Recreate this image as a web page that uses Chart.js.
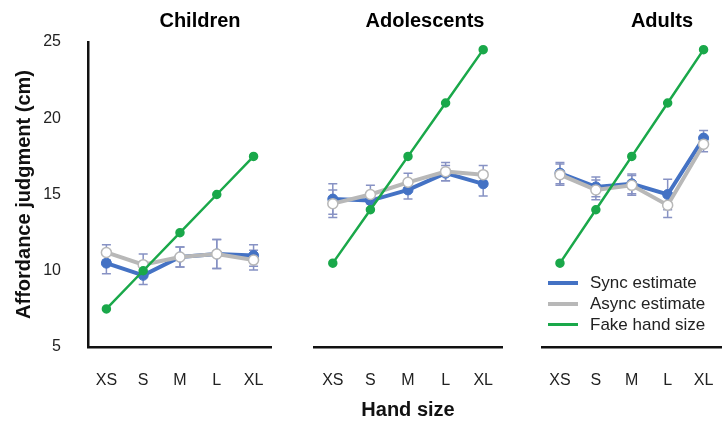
<!DOCTYPE html>
<html>
<head>
<meta charset="utf-8">
<script src="https://cdn.jsdelivr.net/npm/chart.js@4"></script>
<style>
  html, body { margin: 0; padding: 0; background: #fff; overflow: hidden; width: 723px; height: 422px; }
  body { position: relative; font-family: "Liberation Sans", Arial, sans-serif; }
  canvas { position: absolute; top: 0; }
  .title { position: absolute; top: 8px; font-weight: bold; font-size: 20px; color: #000; transform: translateX(-50%); white-space: nowrap; line-height: 24px; }
  .legend { position: absolute; left: 548px; top: 272px; font-size: 17px; color: #222; }
  .legend div { height: 21px; display: flex; align-items: center; }
  .legend span.sw { display: inline-block; width: 30px; margin-right: 12px; }
</style>
</head>
<body>
<canvas id="c1" width="280" height="422" style="left:0px"></canvas>
<canvas id="c2" width="220" height="422" style="left:300px"></canvas>
<canvas id="c3" width="200" height="422" style="left:530px"></canvas>

<div class="title" style="left:200px">Children</div>
<div class="title" style="left:425px">Adolescents</div>
<div class="title" style="left:662px">Adults</div>

<div class="legend">
  <div><span class="sw" style="height:4px;background:#4472c4"></span>Sync estimate</div>
  <div><span class="sw" style="height:4px;background:#b8b8b8"></span>Async estimate</div>
  <div><span class="sw" style="height:2.5px;background:#1aa84a"></span>Fake hand size</div>
</div>

<script>
// data
const handSizes = ['XS', 'S', 'M', 'L', 'XL'];
const yTicks = [5, 10, 15, 20, 25];

const childSync = [10.5, 9.7, 10.9, 11.1, 11.0];
const childAsync = [11.2, 10.4, 10.9, 11.1, 10.7];
const childFake = [7.5, 10, 12.5, 15, 17.5];
const childSyncErr = [0.7, 0.6, 0.65, 0.95, 0.7];
const childAsyncErr = [0.5, 0.7, 0.65, 0.95, 0.65];

const adolSync = [14.7, 14.6, 15.3, 16.4, 15.7];
const adolAsync = [14.4, 15.0, 15.8, 16.5, 16.3];
const adolFake = [10.5, 14, 17.5, 21, 24.5];
const adolSyncErr = [1.0, 0.5, 0.6, 0.5, 0.8];
const adolAsyncErr = [0.9, 0.6, 0.6, 0.6, 0.6];

const adultSync = [16.4, 15.5, 15.7, 15.0, 18.7];
const adultAsync = [16.3, 15.3, 15.6, 14.3, 18.3];
const adultFake = [10.5, 14, 17.5, 21, 24.5];
const adultSyncErr = [0.7, 0.65, 0.65, 1.0, 0.5];
const adultAsyncErr = [0.7, 0.65, 0.65, 0.8, 0.5];

const BLUE = '#4472c4';
const GRAY = '#b8b8b8';
const GREEN = '#1aa84a';
const ERR = '#8792c4';
const FONT = '"Liberation Sans", Arial, sans-serif';

// error bars drawn under the lines, placed through the chart scales
const errorBars = {
  id: 'errorBars',
  beforeDatasetsDraw(chart, args, opts) {
    const ctx = chart.ctx;
    const xs = chart.scales.x, ys = chart.scales.y;
    ctx.save();
    ctx.strokeStyle = ERR;
    ctx.lineWidth = 1.5;
    opts.sets.forEach(function (s) {
      s.values.forEach(function (v, i) {
        const x = xs.getPixelForValue(i);
        const top = ys.getPixelForValue(v + s.err[i]);
        const bot = ys.getPixelForValue(v - s.err[i]);
        ctx.beginPath();
        ctx.moveTo(x, top); ctx.lineTo(x, bot);
        ctx.moveTo(x - 4.5, top); ctx.lineTo(x + 4.5, top);
        ctx.moveTo(x - 4.5, bot); ctx.lineTo(x + 4.5, bot);
        ctx.stroke();
      });
    });
    ctx.restore();
  }
};

function makePanel(id, sync, async, fake, syncErr, asyncErr, opt) {
  const ctx = document.getElementById(id).getContext('2d');
  return new Chart(ctx, {
    type: 'line',
    data: {
      labels: handSizes,
      datasets: [
        { label: 'Sync estimate', data: sync, borderColor: BLUE, backgroundColor: BLUE,
          borderWidth: 4, pointRadius: 5, pointBorderWidth: 1, pointBackgroundColor: BLUE, order: 3 },
        { label: 'Async estimate', data: async, borderColor: GRAY, backgroundColor: '#fff',
          borderWidth: 4, pointRadius: 5, pointBorderWidth: 1.5, pointBackgroundColor: '#fff', order: 2 },
        { label: 'Fake hand size', data: fake, borderColor: GREEN, backgroundColor: GREEN,
          borderWidth: 2.5, pointRadius: 3.5, pointBackgroundColor: GREEN, order: 1 }
      ]
    },
    options: {
      responsive: false,
      animation: false,
      layout: { padding: { top: 42, left: opt.padLeft, right: opt.padRight, bottom: 0 } },
      plugins: {
        legend: { display: false },
        tooltip: { enabled: false },
        errorBars: { sets: [ { values: sync, err: syncErr }, { values: async, err: asyncErr } ] }
      },
      scales: {
        x: {
          offset: true,
          grid: { display: false },
          border: { display: true, color: '#111', width: 2.5 },
          ticks: { color: '#222', font: { family: FONT, size: 16 }, padding: 16, maxRotation: 0, autoSkip: false },
          title: { display: opt.xTitle, text: 'Hand size', color: '#111',
                   font: { family: FONT, size: 20, weight: 'bold' }, padding: { top: 0, bottom: 0 } },
          afterFit: function (s) { s.height = 75; }
        },
        y: {
          display: opt.showY,
          min: 5, max: 25,
          afterBuildTicks: function (s) { s.ticks = yTicks.map(v => ({ value: v })); },
          grid: { display: false },
          border: { display: true, color: '#111', width: 2.5 },
          ticks: { color: '#222', font: { family: FONT, size: 16 }, padding: 19 },
          title: { display: opt.showY, text: 'Affordance judgment (cm)', color: '#111',
                   font: { family: FONT, size: 20, weight: 'bold' }, padding: { top: 12, bottom: 0 } },
          afterFit: function (s) { s.width = opt.showY ? 88 : 0; }
        }
      }
    },
    plugins: [errorBars]
  });
}

makePanel('c1', childSync, childAsync, childFake, childSyncErr, childAsyncErr,
  { padLeft: 0, padRight: 6, showY: true, xTitle: false });
makePanel('c2', adolSync, adolAsync, adolFake, adolSyncErr, adolAsyncErr,
  { padLeft: 14, padRight: 18, showY: false, xTitle: true });
makePanel('c3', adultSync, adultAsync, adultFake, adultSyncErr, adultAsyncErr,
  { padLeft: 12, padRight: 1, showY: false, xTitle: false });
</script>
</body>
</html>
